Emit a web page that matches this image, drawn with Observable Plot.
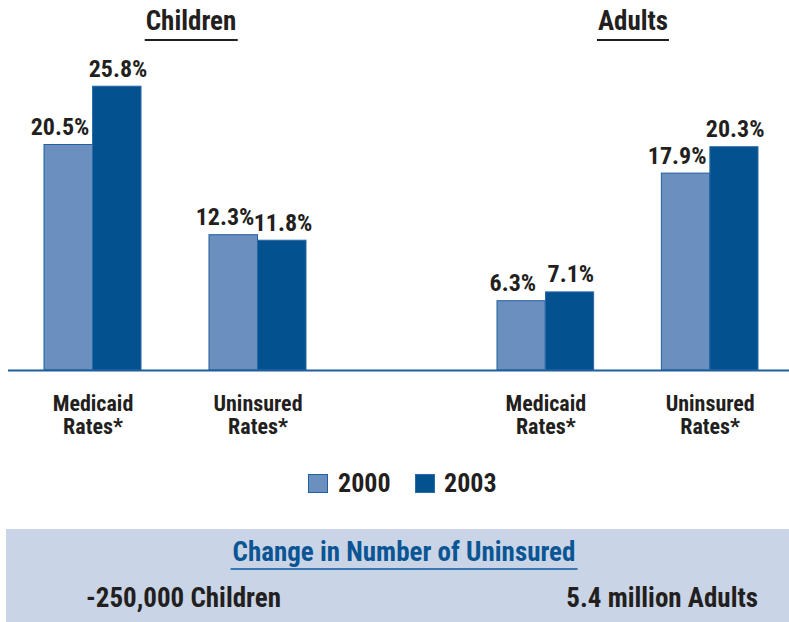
<!DOCTYPE html>
<html>
<head>
<meta charset="utf-8">
<script src="https://cdn.jsdelivr.net/npm/d3@7"></script>
<script src="https://cdn.jsdelivr.net/npm/@observablehq/plot@0.6"></script>
<style>
  body { margin: 0; background: #ffffff; }
  #wrap {
    position: relative; width: 789px; height: 622px; overflow: hidden;
    font-family: 'Roboto Condensed', 'Roboto', sans-serif; font-stretch: condensed;
    font-weight: bold; color: #231f20;
  }
  .abs { position: absolute; white-space: nowrap; }
  .grouptitle {
    font-size: 27px; line-height: 27px; padding: 0 1px 4px 1px;
    border-bottom: 2px solid #231f20; transform: translateX(-50%);
  }
  .chart { position: absolute; top: 0; }
  .swatch { position: absolute; width: 20px; height: 19px; box-sizing: border-box; }
  .legtext { font-size: 26px; line-height: 26px; }
  #panel { position: absolute; left: 6px; top: 529px; width: 783px; height: 93px; background: #c9d5e6; }
  #paneltitle {
    font-size: 27px; line-height: 27px; color: #0b5595; padding: 0 2px 2px 2px;
    border-bottom: 2px solid #3a78b5; transform: translateX(-50%);
  }
  .paneltext { font-size: 27px; line-height: 27px; }
</style>
</head>
<body>
<div id="wrap">
  <div id="panel"></div>
</div>
<script>
// ---- data ----
const groups = ["Children", "Adults"];
const categories = ["Medicaid\nRates*", "Uninsured\nRates*"];
const years = ["2000", "2003"];
const children2000 = [20.5, 12.3];
const children2003 = [25.8, 11.8];
const adults2000 = [6.3, 17.9];
const adults2003 = [7.1, 20.3];
const panelTitle = "Change in Number of Uninsured";
const changeChildren = "-250,000 Children";
const changeAdults = "5.4 million Adults";

const colors = ["#6b8fbe", "#03518f"];
const strokes = ["#21609f", "#2a6aa8"];
const FONT = "'Roboto Condensed', 'Roboto', sans-serif";

function rows(v2000, v2003) {
  return categories.flatMap((c, i) => [
    {category: c, year: years[0], value: v2000[i]},
    {category: c, year: years[1], value: v2003[i]}
  ]);
}

function chart(data, width, marginLeft, xRange) {
  const d0 = data.filter(d => d.year === years[0]);
  const d1 = data.filter(d => d.year === years[1]);
  return Plot.plot({
    width, height: 445,
    marginTop: 40, marginBottom: 75, marginLeft, marginRight: 0,
    x: {domain: categories, range: xRange, paddingInner: 0.412, paddingOuter: 0, round: false, axis: null},
    y: {domain: [0, 30], axis: null},
    color: {domain: years, range: colors},
    style: {fontFamily: FONT, fontStretch: "condensed", fontWeight: "bold", color: "#231f20",
      background: "transparent", overflow: "visible"},
    marks: [
      Plot.barY(d0, {x: "category", y: "value", fill: "year", stroke: strokes[0], strokeWidth: 1, insetRight: 48.5}),
      Plot.barY(d1, {x: "category", y: "value", fill: "year", stroke: strokes[1], strokeWidth: 1, insetLeft: 48.5}),
      Plot.ruleY([0], {stroke: "#1f5f9e", strokeWidth: 2}),
      Plot.text(d0, {x: "category", y: "value", text: d => d.value.toFixed(1) + "%", dx: -33, dy: -10,
        lineAnchor: "bottom", fontSize: 24, fill: "#231f20"}),
      Plot.text(d1, {x: "category", y: "value", text: d => d.value.toFixed(1) + "%", dx: 25, dy: -10,
        lineAnchor: "bottom", fontSize: 24, fill: "#231f20"}),
      Plot.text(categories, {x: d => d, text: d => d, frameAnchor: "bottom", lineAnchor: "top", dy: 24,
        fontSize: 22, lineHeight: 1.05, fill: "#231f20"})
    ]
  });
}

const wrap = document.getElementById("wrap");

const c1 = chart(rows(children2000, children2003), 394, 8, [44, 306]);
c1.classList.add("chart"); c1.style.left = "0px";
wrap.appendChild(c1);

const c2 = chart(rows(adults2000, adults2003), 395, 0, [103, 364]);
c2.classList.add("chart"); c2.style.left = "394px";
wrap.appendChild(c2);

function addDiv(cls, text, css) {
  const el = document.createElement("div");
  el.className = "abs " + cls;
  el.textContent = text;
  Object.assign(el.style, css);
  wrap.appendChild(el);
  return el;
}

// group titles
addDiv("grouptitle", groups[0], {left: "191px", top: "8px"});
addDiv("grouptitle", groups[1], {left: "633px", top: "8px"});

// legend
[[308, 338], [415, 444]].forEach(([sx, tx], i) => {
  const sw = document.createElement("div");
  sw.className = "swatch";
  Object.assign(sw.style, {left: sx + "px", top: "474px", background: colors[i], border: "1.5px solid " + strokes[i]});
  wrap.appendChild(sw);
  addDiv("legtext", years[i], {left: tx + "px", top: "470px"});
});

// bottom panel
const pt = addDiv("", panelTitle, {left: "404px", top: "539px"});
pt.id = "paneltitle";
addDiv("paneltext", changeChildren, {left: "86px", top: "585px"});
addDiv("paneltext", changeAdults, {right: "31px", top: "585px"});
</script>
</body>
</html>
